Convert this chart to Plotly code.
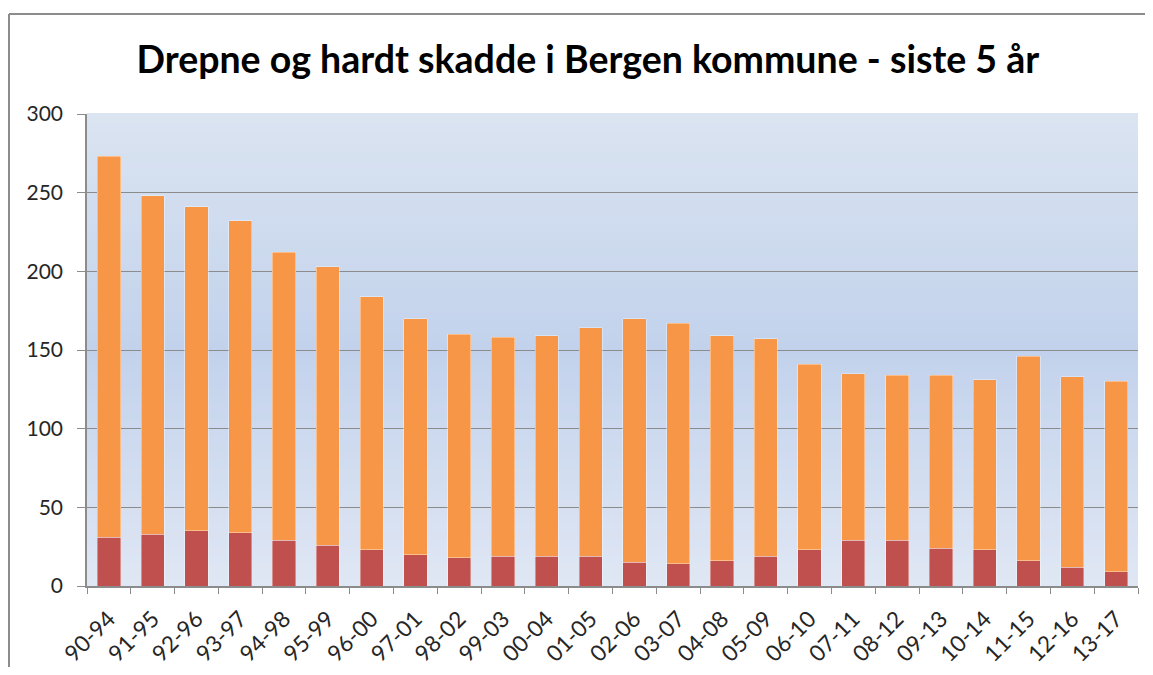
import plotly.graph_objects as go

categories = ["90-94", "91-95", "92-96", "93-97", "94-98", "95-99", "96-00", "97-01",
              "98-02", "99-03", "00-04", "01-05", "02-06", "03-07", "04-08", "05-09",
              "06-10", "07-11", "08-12", "09-13", "10-14", "11-15", "12-16", "13-17"]
drepne = [31, 33, 35, 34, 29, 26, 23, 20, 18, 19, 19, 19, 15, 14, 16, 19, 23, 29, 29, 24, 23, 16, 12, 9]
hardt_skadde = [242, 215, 206, 198, 183, 177, 161, 150, 142, 139, 140, 145, 155, 153, 143, 138,
                118, 106, 105, 110, 108, 130, 121, 121]
y_ticks = [0, 50, 100, 150, 200, 250, 300]

# the page body has an 8px margin, so the figure is placed at (8, 8)
W, H = 1137, 659
L, R, T, B = 79, 7, 106, 81

fig = go.Figure()
fig.add_trace(go.Bar(x=categories, y=drepne, name="Drepne",
                     marker=dict(color="#c0504d", line=dict(color="rgba(255,255,255,0.45)", width=0.8))))
fig.add_trace(go.Bar(x=categories, y=hardt_skadde, name="Hardt skadde",
                     marker=dict(color="#f79646", line=dict(color="rgba(255,255,255,0.45)", width=0.8))))

# gradient background of plot area (bands)
top = (219, 228, 241)
mid = (194, 210, 236)
bot = (224, 231, 244)
n = 60
shapes = []
for i in range(n):
    f0 = i / n
    f1 = (i + 1) / n
    fc = (f0 + f1) / 2  # 0 bottom -> 1 top
    if fc < 0.5:
        t = fc / 0.5
        c = tuple(bot[k] + (mid[k] - bot[k]) * t for k in range(3))
    else:
        t = (fc - 0.5) / 0.5
        c = tuple(mid[k] + (top[k] - mid[k]) * t for k in range(3))
    shapes.append(dict(type="rect", xref="x domain", yref="y domain", x0=0, x1=1, y0=f0, y1=f1 + 0.002,
                       fillcolor="rgb(%d,%d,%d)" % tuple(int(round(v)) for v in c),
                       line=dict(width=0), layer="below"))

# outer chart border: only the left and top edges are inside the picture
pw = W - L - R
ph = H - T - B
bx = (1 - L) / pw
by = (H - 6 - B) / ph
shapes.append(dict(type="line", xref="paper", yref="paper",
                   x0=bx, x1=bx, y0=-B / ph, y1=by,
                   line=dict(color="#8c8c8c", width=2), layer="above"))
shapes.append(dict(type="line", xref="paper", yref="paper",
                   x0=bx, x1=(W - L) / pw, y0=by, y1=by,
                   line=dict(color="#8c8c8c", width=2), layer="above"))

fig.update_layout(
    width=W, height=H,
    margin=dict(l=L, r=R, t=T, b=B, autoexpand=False),
    barmode="stack",
    bargap=0.47,
    showlegend=False,
    paper_bgcolor="white",
    plot_bgcolor="#dde5f2",
    shapes=shapes,
    title=dict(text="<b>Drepne og hardt skadde i Bergen kommune - siste 5 år</b>",
               x=0.510, xanchor="center", y=0.921, yanchor="middle",
               font=dict(family="Lato, Open Sans, sans-serif", size=37.5, color="#000000")),
    font=dict(family="Lato, Open Sans, sans-serif", color="#262626"),
)
fig.update_xaxes(
    type="category",
    automargin=False,
    tickangle=-45,
    tickfont=dict(size=22.5, color="#262626"),
    ticks="outside", ticklen=6, tickcolor="#8c8c8c", tickwidth=1.3,
    tickson="boundaries",
    showline=True, linecolor="#8c8c8c", linewidth=1.5,
    showgrid=False,
    ticklabelstandoff=9,
)
fig.update_yaxes(
    automargin=False,
    range=[0, 300],
    tickvals=y_ticks,
    tickfont=dict(size=21, color="#262626"),
    ticks="outside", ticklen=8, tickcolor="#8c8c8c", tickwidth=1.3,
    showline=True, linecolor="#8c8c8c", linewidth=1.5,
    showgrid=True, gridcolor="#8c8c8c", gridwidth=1.3,
    zeroline=False,
    ticklabelstandoff=10,
)

fig.write_html("out.html")
